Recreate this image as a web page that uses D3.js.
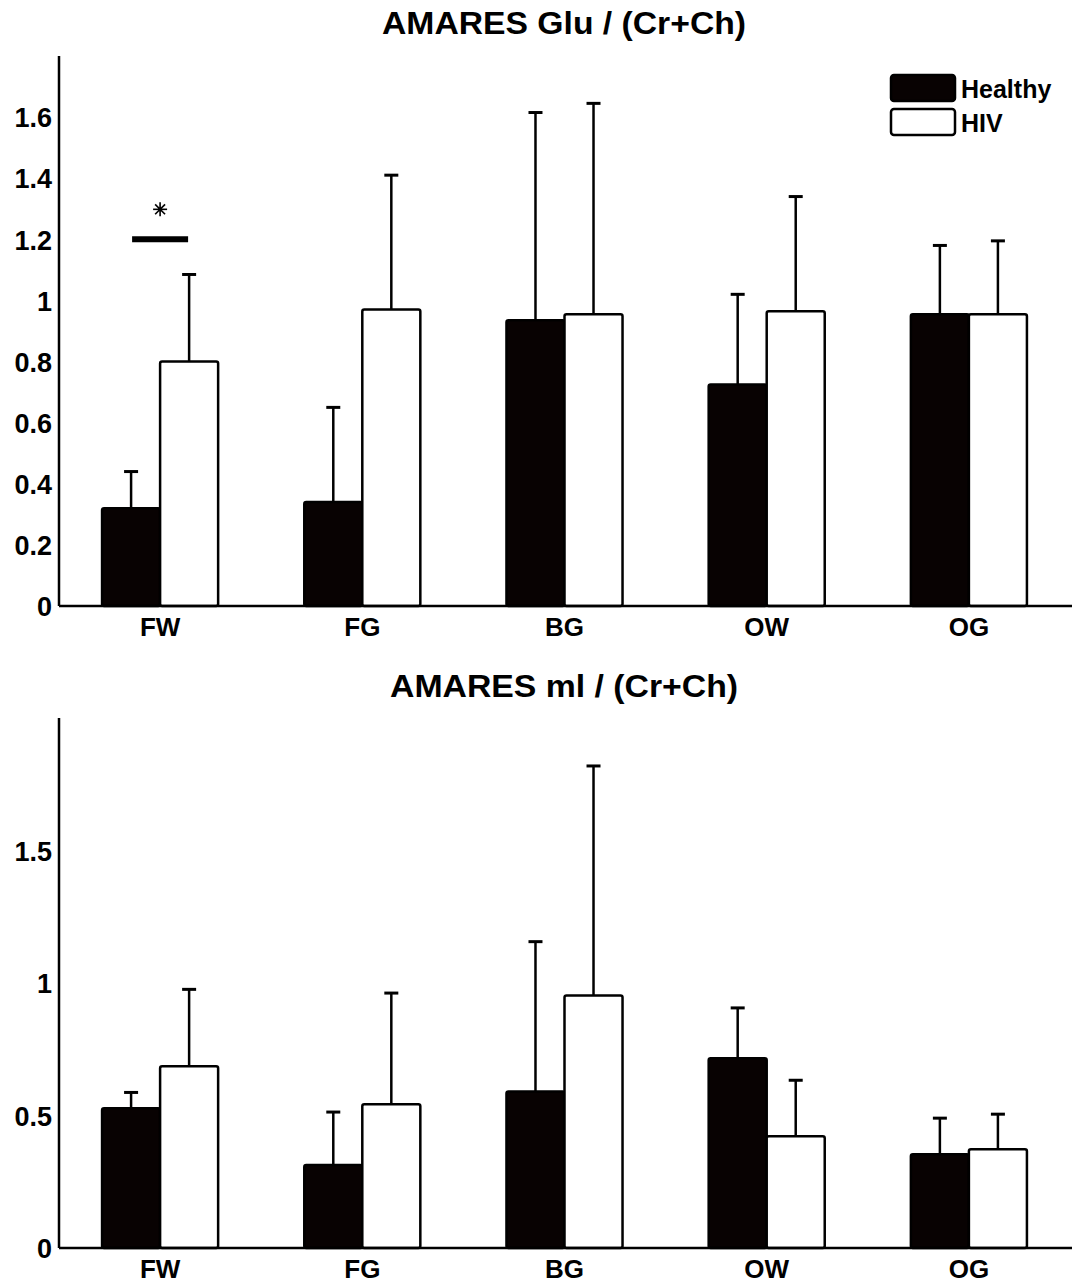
<!DOCTYPE html>
<html lang="en">
<head>
<meta charset="UTF-8">
<title>AMARES Glu / ml</title>
<script src="https://d3js.org/d3.v7.min.js"></script>
<style>
  body { margin: 0; background: #fff; }
  svg text { font-family: "Liberation Sans", Arial, sans-serif; font-weight: bold; fill: #000; }
</style>
</head>
<body>
<svg id="chart"></svg>
<script>
const categories = ["FW", "FG", "BG", "OW", "OG"];
const series = ["Healthy", "HIV"];

// Glu / (Cr+Ch)
const gluHealthy   = [0.32, 0.34, 0.935, 0.725, 0.955];
const gluHealthySD = [0.12, 0.31, 0.68, 0.295, 0.225];
const gluHiv       = [0.80, 0.97, 0.955, 0.965, 0.955];
const gluHivSD     = [0.285, 0.44, 0.69, 0.375, 0.24];
const gluTicks     = [0, 0.2, 0.4, 0.6, 0.8, 1, 1.2, 1.4, 1.6];

// ml / (Cr+Ch)
const mlHealthy    = [0.527, 0.313, 0.591, 0.716, 0.354];
const mlHealthySD  = [0.06, 0.20, 0.565, 0.19, 0.136];
const mlHiv        = [0.686, 0.542, 0.953, 0.422, 0.373];
const mlHivSD      = [0.29, 0.42, 0.866, 0.211, 0.132];
const mlTicks      = [0, 0.5, 1, 1.5];

const W = 1076, H = 1283;
const svg = d3.select("#chart").attr("width", W).attr("height", H);

const fill = { Healthy: "#080202", HIV: "#fff" };

function panel(opts) {
  const { top, bottom, yMax, ticks, title, titleY, titleLen, healthy, healthySD, hiv, hivSD } = opts;
  const left = 59, right = 1072;

  const x = d3.scaleBand().domain(categories).range([left, 1070])
    .paddingInner(0.426).paddingOuter(0.213);
  const xs = d3.scaleBand().domain(series).range([0, x.bandwidth()]);
  const y = d3.scaleLinear().domain([0, yMax]).range([bottom, top]);

  const g = svg.append("g");

  g.append("text")
    .attr("x", 564).attr("y", titleY)
    .attr("text-anchor", "middle")
    .attr("font-size", 32)
    .attr("textLength", titleLen)
    .attr("lengthAdjust", "spacingAndGlyphs")
    .text(title);

  const rows = categories.map((c, i) => ({
    cat: c,
    vals: [
      { s: "Healthy", v: healthy[i], sd: healthySD[i] },
      { s: "HIV", v: hiv[i], sd: hivSD[i] }
    ]
  }));

  const grp = g.selectAll(".grp").data(rows).join("g")
    .attr("transform", d => `translate(${x(d.cat)},0)`);

  // error bars (upper only)
  grp.selectAll(".err").data(d => d.vals).join("g").each(function (d) {
    const cx = xs(d.s) + xs.bandwidth() / 2;
    const e = d3.select(this);
    e.append("line")
      .attr("x1", cx).attr("x2", cx)
      .attr("y1", y(d.v)).attr("y2", y(d.v + d.sd))
      .attr("stroke", "#000").attr("stroke-width", 2.5);
    e.append("line")
      .attr("x1", cx - 7).attr("x2", cx + 7)
      .attr("y1", y(d.v + d.sd)).attr("y2", y(d.v + d.sd))
      .attr("stroke", "#000").attr("stroke-width", 3);
  });

  grp.selectAll("rect").data(d => d.vals).join("rect")
    .attr("x", d => xs(d.s))
    .attr("y", d => y(d.v))
    .attr("width", xs.bandwidth())
    .attr("height", d => y(0) - y(d.v))
    .attr("rx", 2)
    .attr("fill", d => fill[d.s])
    .attr("stroke", "#000")
    .attr("stroke-width", 2.5);

  // axes
  const yAxis = g.append("g")
    .attr("transform", `translate(${left},0)`)
    .call(d3.axisLeft(y).tickValues(ticks).tickSize(0).tickSizeOuter(0).tickPadding(7)
      .tickFormat(d3.format("~g")));
  yAxis.select(".domain").remove();
  yAxis.selectAll("text").attr("font-size", 27).attr("font-family", null)
    .attr("dy", "0.36em");

  g.append("line")
    .attr("x1", left).attr("x2", left)
    .attr("y1", y(yMax)).attr("y2", y(0))
    .attr("stroke", "#000").attr("stroke-width", 2.5);

  const xAxis = g.append("g")
    .attr("transform", `translate(0,${y(0)})`)
    .call(d3.axisBottom(x).tickSize(0).tickPadding(12));
  xAxis.select(".domain").attr("stroke-width", 2.5).attr("d", `M${left},0H${right}`);
  xAxis.selectAll("text").attr("font-size", 26).attr("font-family", null);

  return { x, xs, y, g };
}

const p1 = panel({
  top: 56, bottom: 606, yMax: 1.8, ticks: gluTicks,
  title: "AMARES Glu / (Cr+Ch)", titleY: 34, titleLen: 364,
  healthy: gluHealthy, healthySD: gluHealthySD, hiv: gluHiv, hivSD: gluHivSD
});

// significance marker on FW
const fwCenter = p1.x("FW") + p1.x.bandwidth() / 2;
const sigY = p1.y(1.2);
p1.g.append("line")
  .attr("x1", fwCenter - 28).attr("x2", fwCenter + 28)
  .attr("y1", sigY).attr("y2", sigY)
  .attr("stroke", "#000").attr("stroke-width", 6);
const star = p1.g.append("g").attr("transform", `translate(${fwCenter},${sigY - 30})`);
[0, 45, 90, 135].forEach(a => {
  star.append("line")
    .attr("x1", -7).attr("x2", 7)
    .attr("transform", `rotate(${a})`)
    .attr("stroke", "#000").attr("stroke-width", 1.6);
});
star.append("circle").attr("r", 2.2).attr("fill", "#000");

// legend
const legend = p1.g.append("g").attr("transform", "translate(891,75)");
series.forEach((s, i) => {
  const row = legend.append("g").attr("transform", `translate(0,${i * 34})`);
  row.append("rect")
    .attr("width", 64).attr("height", 26).attr("rx", 3)
    .attr("fill", fill[s]).attr("stroke", "#000").attr("stroke-width", 2.5);
  row.append("text")
    .attr("x", 70).attr("y", 14).attr("dy", "0.36em")
    .attr("font-size", 25)
    .text(s);
});

panel({
  top: 718, bottom: 1248, yMax: 2.0, ticks: mlTicks,
  title: "AMARES ml / (Cr+Ch)", titleY: 697, titleLen: 348,
  healthy: mlHealthy, healthySD: mlHealthySD, hiv: mlHiv, hivSD: mlHivSD
});
</script>
</body>
</html>
